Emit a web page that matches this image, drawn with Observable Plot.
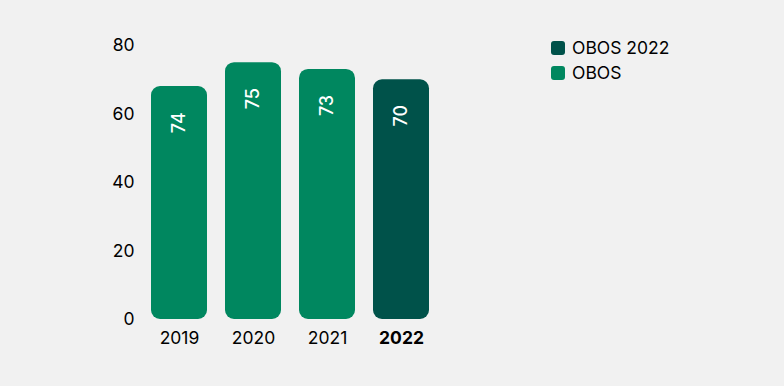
<!DOCTYPE html>
<html>
<head>
<meta charset="utf-8">
<script src="https://cdn.jsdelivr.net/npm/d3@7"></script>
<script src="https://cdn.jsdelivr.net/npm/@observablehq/plot@0.6"></script>
<style>
  html, body { margin: 0; padding: 0; background: #f1f1f1; }
  body { width: 784px; height: 386px; position: relative; overflow: hidden; font-family: Inter, "Noto Sans", sans-serif; }
  #legend { position: absolute; left: 551px; top: 35px; font-size: 17.5px; color: #000; }
  .item { display: flex; align-items: center; height: 25px; }
  .sw { width: 14px; height: 14px; border-radius: 3px; margin-right: 7px; }
</style>
</head>
<body>
<div id="chart"></div>
<div id="legend"></div>
<script>
const years = ["2019", "2020", "2021", "2022"];
const barValues = [68, 75, 73, 70];
const valueLabels = ["74", "75", "73", "70"];
const series = ["OBOS", "OBOS", "OBOS", "OBOS 2022"];
const yTicks = [0, 20, 40, 60, 80];
const legendNames = ["OBOS 2022", "OBOS"];
const legendColors = ["#00524a", "#00875f"];

const data = years.map((y, i) => ({year: y, value: barValues[i], label: valueLabels[i], series: series[i]}));

const chart = Plot.plot({
  width: 784,
  height: 386,
  marginLeft: 141,
  marginRight: 346,
  marginTop: 45,
  marginBottom: 67,
  style: {background: "#f1f1f1", fontFamily: "Inter, 'Noto Sans', sans-serif", fontSize: "17.5px", color: "#000"},
  x: {domain: years, paddingInner: 0.25, paddingOuter: 0.125, axis: null},
  y: {domain: [0, 80], axis: null},
  color: {domain: legendNames, range: legendColors},
  marks: [
    Plot.barY(data, {x: "year", y: "value", fill: "series", rx: 9}),
    Plot.text(data, {x: "year", y: "value", text: "label", rotate: -90, dy: 36, fill: "white", fontSize: 18, fontWeight: 500, textAnchor: "middle", lineAnchor: "middle"}),
    Plot.text(yTicks, {y: d => d, text: d => String(d), frameAnchor: "left", textAnchor: "end", dx: -7, fill: "#000", fontSize: 17.5}),
    Plot.text(data.filter(d => d.year !== "2022"), {x: "year", y: 0, text: "year", dy: 19, fill: "#000", fontSize: 17.5}),
    Plot.text(data.filter(d => d.year === "2022"), {x: "year", y: 0, text: "year", dy: 19, fill: "#000", fontSize: 17.5, fontWeight: "bold"})
  ]
});
document.getElementById("chart").appendChild(chart);

const legend = document.getElementById("legend");
legendNames.forEach((n, i) => {
  const it = document.createElement("div");
  it.className = "item";
  const sw = document.createElement("div");
  sw.className = "sw";
  sw.style.background = legendColors[i];
  const t = document.createElement("span");
  t.textContent = n;
  it.appendChild(sw);
  it.appendChild(t);
  legend.appendChild(it);
});
</script>
</body>
</html>
